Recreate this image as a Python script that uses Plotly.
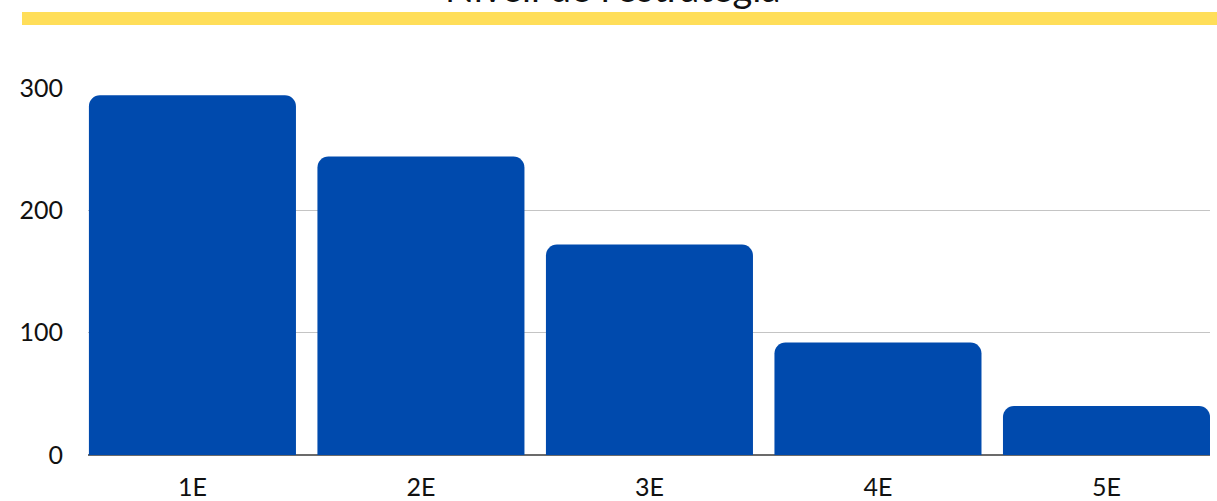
import plotly.graph_objects as go

categories = ["1E", "2E", "3E", "4E", "5E"]
values = [294, 244, 172, 92, 40]
y_ticks = [0, 100, 200, 300]
title_text = "Nivell de l'estratègia"

W, H = 1217, 501
L, R, T, B = 88, 7, 88, 46
ph = H - T - B
pw = W - L - R

def py(px):
    return (H - B - px) / ph

def pxr(px):
    return (px - L) / pw

fig = go.Figure()
fig.add_trace(go.Bar(
    x=list(range(len(categories))), y=values,
    marker=dict(color="#004AAD", line=dict(width=0)),
    width=0.906,
))

fig.update_layout(
    width=W, height=H,
    margin=dict(l=L, r=R, t=T, b=B, autoexpand=False),
    paper_bgcolor="white", plot_bgcolor="white",
    showlegend=False,
    barcornerradius=11,
    font=dict(family="Lato", size=25, color="#111111"),
    xaxis=dict(
        range=[-0.457, 4.453],
        tickmode="array",
        tickvals=list(range(len(categories))),
        ticktext=categories,
        showgrid=False, zeroline=False,
        showline=False, ticks="",
        tickfont=dict(size=25, color="#111111"),
        ticklabelstandoff=15,
        automargin=False,
    ),
    yaxis=dict(
        range=[0, 300],
        tickmode="array", tickvals=y_ticks,
        showgrid=True, gridcolor="#c4c4c4", gridwidth=1.3,
        zeroline=True, zerolinecolor="#6b6b6b", zerolinewidth=1.5,
        showline=False, ticks="",
        tickfont=dict(size=25, color="#111111"),
        ticklabelstandoff=24,
        automargin=False,
    ),
    shapes=[dict(
        type="rect", xref="paper", yref="paper",
        x0=pxr(22), x1=pxr(1217), y0=py(25), y1=py(12),
        fillcolor="#FFDE59", line=dict(width=0), layer="below",
    )],
    annotations=[dict(
        text=title_text, xref="paper", yref="paper",
        x=pxr(612), y=py(12), xanchor="center", yanchor="bottom",
        showarrow=False, font=dict(size=38, color="#111111", family="Lato"),
    )],
)

fig.write_html(
    "out.html",
    config={"displayModeBar": False},
    post_script="document.body.style.margin='0';document.body.style.overflow='hidden';",
)
